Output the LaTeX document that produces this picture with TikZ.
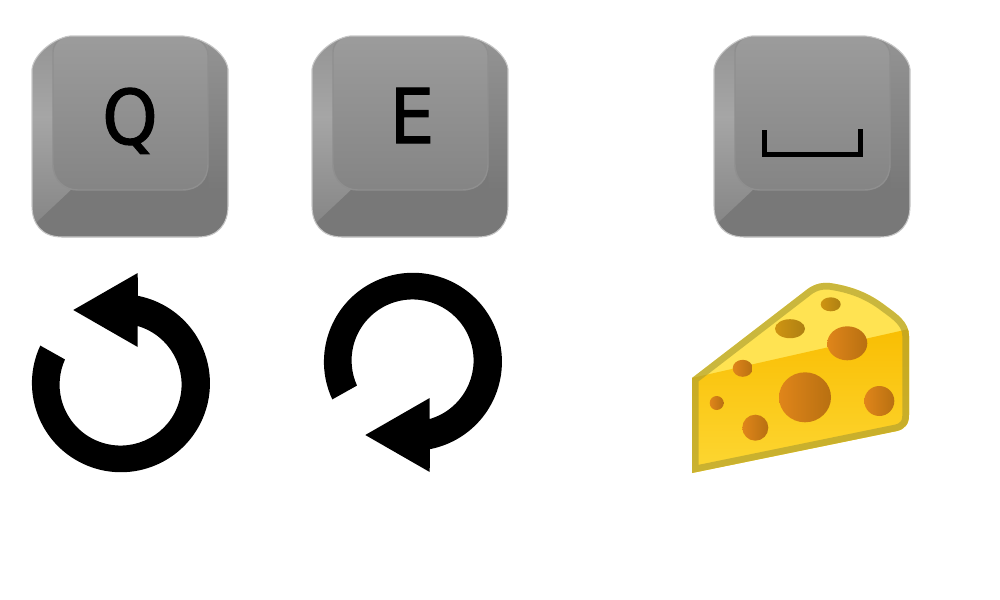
\documentclass[tikz,border=0pt]{standalone}
\usepackage{fontspec}
\newfontfamily\keyfont[FakeStretch=0.93, FakeBold=1.6]{DejaVu Sans}
\usetikzlibrary{calc}

\definecolor{cheeseTop}{HTML}{FFE352}
\definecolor{cheeseMid}{HTML}{F9BE03}
\definecolor{cheeseLow}{HTML}{FDD835}
\definecolor{cheeseRim}{HTML}{A89A30}
\definecolor{holeLight}{HTML}{E0851A}
\definecolor{holeMid}{HTML}{D47E16}
\definecolor{holeDark}{HTML}{B87011}
\definecolor{holeGoldL}{HTML}{CF9412}
\definecolor{holeGoldD}{HTML}{AE8012}

\newcommand{\cheeseoutline}{(692,473) -- (692,378) -- (805,291)
	.. controls (812,285) and (820,282) .. (830,283)
	.. controls (850,286) and (868,292) .. (886,306)
	.. controls (897,314) and (909,322) .. (909,336)
	-- (909,415) .. controls (909,424) and (905,429) .. (897,431) -- cycle}
\newcommand{\keyoutline}{(38,0) -- (151,0) .. controls (174,2) and (194,18) .. (196,33)
	-- (196,170) .. controls (196,188) and (186,201) .. (166,201)
	-- (30,201) .. controls (10,201) and (0,188) .. (0,170)
	-- (0,33) .. controls (2,18) and (22,2) .. (38,0) -- cycle}

\pgfdeclareverticalshading{keyleftside}{100bp}{
	color(0bp)=(black!49); color(25bp)=(black!49); color(55bp)=(black!35); color(90bp)=(black!47); color(100bp)=(black!47)}

\tikzset{
	keyrim/.style={draw=black!22, line width=0.3pt},
	keyrightside/.style={top color=black!42, bottom color=black!53},
	keyskirt/.style={fill=black!53},
	keytop/.style={draw=black!44, line width=0.4pt, top color=black!39, bottom color=black!48},
	keyletter/.style={font=\keyfont\fontsize{21.5}{24}\selectfont, text=black, inner sep=0pt},
	turnarrowbody/.style={fill=black, draw=none},
	holelow/.style={left color=holeLight, middle color=holeMid, right color=holeDark},
	holehigh/.style={left color=holeGoldL, right color=holeGoldD},
	pics/keycap/.style={code={
		\begin{scope}
			\clip \keyoutline;
			% sides of the shell, the skirt, then the raised face
			\shade [shading=keyleftside] \keyoutline;
			\shade [keyrightside] (176,0) rectangle (196,155);
			\fill [keyskirt] (38,155) -- (60,130) -- (176,130) -- (176,155) -- (196,155)
				-- (196,201) -- (5,201) -- (5,186) -- cycle;
			\draw [keytop] (38,0) -- (151,0) .. controls (165,0) and (176,8) .. (176,19)
				-- (176,128) .. controls (176,144) and (166,154) .. (150,154)
				-- (46,154) .. controls (32,154) and (21,144) .. (21,128)
				-- (21,16) .. controls (21,8) and (28,0) .. (38,0) -- cycle;
		\end{scope}
		\draw [keyrim] \keyoutline;
	}},
	pics/turnarrow/.style={code={
		\fill [turnarrowbody] (-80.7,-37.4) arc[start angle=-155, end angle=-439, radius=89]
			-- (16.7,-110) -- (-47.7,-73) -- (16.7,-36) -- (16.7,-57)
			arc[start angle=-433.7, end angle=-155.7, radius=61] -- cycle;
	}}
}

\begin{document}
\begin{tikzpicture}[x=0.01cm, y=-0.01cm]
	\useasboundingbox (0,0) rectangle (1000,600);

	% keys
	\pic (keyq) at (32,36) {keycap};
	\pic (keye) at (312,36) {keycap};
	\pic (keyspace) at (714,36) {keycap};

	\node [keyletter, anchor=base] (letterq) at (130,144) {Q};
	\node [keyletter, anchor=base] (lettere) at (412,143) {E};
	\draw [line width=1.3pt, line join=miter] (764.5,130) -- (764.5,154.5) -- (860.5,154.5) -- (860.5,129);

	% rotation arrows
	\pic (turnleft) at (121,383) {turnarrow};
	\pic [yscale=-1] (turnright) at (413,362) {turnarrow};

	% cheese
	\begin{scope}
		\clip \cheeseoutline;
		\fill [cheeseTop] (680,270) rectangle (920,480);
		\shade [top color=cheeseMid, bottom color=cheeseLow]
			(692,378) -- (909,329) -- (909,480) -- (692,480) -- cycle;
		\foreach \cx/\cy/\rx/\ry in {830.7/304.3/10/7, 790/328.7/15/9.5}
			\shade [holehigh] (\cx,\cy) ellipse [x radius=\rx, y radius=\ry];
		\foreach \cx/\cy/\rx/\ry in {847.3/343.3/20/17, 742.7/368.3/10/8.5, 805/397.3/26/25,
				879.3/401/15/15, 716.7/403/7/7, 755.3/427.7/13/13}
			\shade [holelow] (\cx,\cy) ellipse [x radius=\rx, y radius=\ry];
		\draw [cheeseRim, opacity=0.6, line width=3.8pt] \cheeseoutline;
	\end{scope}
\end{tikzpicture}
\end{document}
